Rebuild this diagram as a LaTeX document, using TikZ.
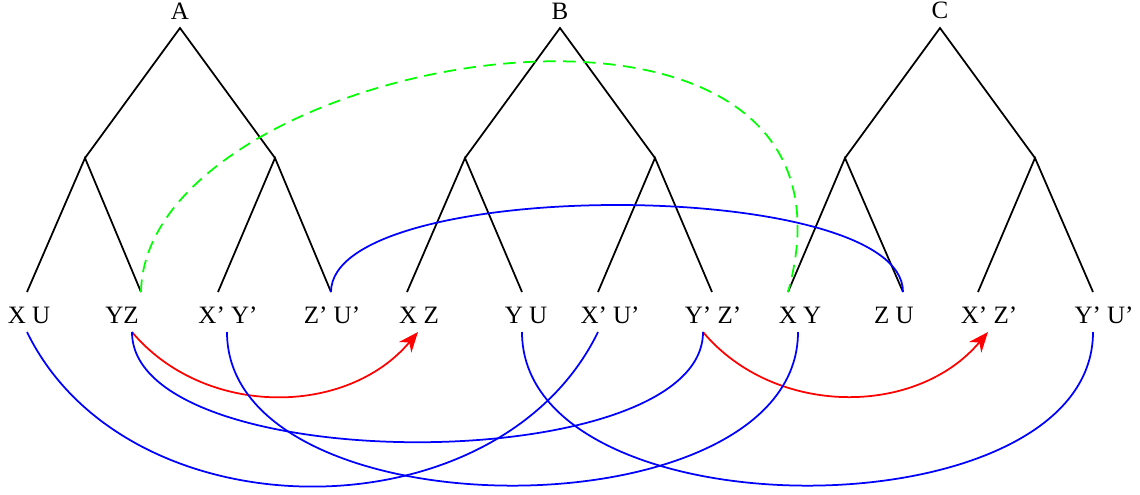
\documentclass[tikz,border=0pt]{standalone}
\usepackage{fontspec}
\setmainfont{Liberation Serif}
\usepackage{tikz}
\usetikzlibrary{arrows.meta}

\begin{document}
\begin{tikzpicture}[
  x=0.4pt, y=0.4pt,
  branch/.style={line width=0.7pt},
  leaf/.style={anchor=base},
  link/.style={line width=0.7pt, blue},
  move/.style={line width=0.7pt, red, -{Stealth[length=8pt, width=6.5pt]}},
  cross/.style={line width=0.7pt, green, dash pattern=on 5pt off 3pt}
]
  \useasboundingbox (0,0) rectangle (1140,-494);

  % tree A
  \coordinate (A) at (180,-28);
  \node[above] (Alab) at (A) {A};
  \coordinate (A1) at (85,-158);
  \coordinate (A2) at (275,-158);
  \coordinate (a1t) at (27,-292);
  \coordinate (a2t) at (141,-292);
  \coordinate (a3t) at (218,-292);
  \coordinate (a4t) at (331,-292);
  \node[leaf] (a1) at (29,-323) {X U};
  \node[leaf] (a2) at (122,-323) {YZ};
  \node[leaf] (a3) at (228,-323) {X' Y'};
  \node[leaf] (a4) at (332,-323) {Z' U'};
  \coordinate (a1b) at (27,-332);
  \coordinate (a2b) at (132,-332);
  \coordinate (a3b) at (227,-332);
  \draw[branch] (A1) -- (A) -- (A2);
  \draw[branch] (a1t) -- (A1) -- (a2t);
  \draw[branch] (a3t) -- (A2) -- (a4t);

  % tree B
  \coordinate (B) at (560,-28);
  \node[above] (Blab) at (B) {B};
  \coordinate (B1) at (465,-158);
  \coordinate (B2) at (655,-158);
  \coordinate (b1t) at (407,-292);
  \coordinate (b2t) at (522,-292);
  \coordinate (b3t) at (598,-292);
  \coordinate (b4t) at (712,-292);
  \node[leaf] (b1) at (419,-323) {X Z};
  \node[leaf] (b2) at (526,-323) {Y U};
  \node[leaf] (b3) at (610,-323) {X' U'};
  \node[leaf] (b4) at (713,-323) {Y' Z'};
  \coordinate (b1b) at (418,-332);
  \coordinate (b2b) at (522,-332);
  \coordinate (b3b) at (598,-332);
  \coordinate (b4b) at (703,-332);
  \draw[branch] (B1) -- (B) -- (B2);
  \draw[branch] (b1t) -- (B1) -- (b2t);
  \draw[branch] (b3t) -- (B2) -- (b4t);

  % tree C
  \coordinate (C) at (940,-28);
  \node[above] (Clab) at (C) {C};
  \coordinate (C1) at (845,-158);
  \coordinate (C2) at (1035,-158);
  \coordinate (c1t) at (788,-292);
  \coordinate (c2t) at (903,-292);
  \coordinate (c3t) at (978,-292);
  \coordinate (c4t) at (1093,-292);
  \node[leaf] (c1) at (800,-323) {X Y};
  \node[leaf] (c2) at (894,-323) {Z U};
  \node[leaf] (c3) at (989,-323) {X' Z'};
  \node[leaf] (c4) at (1104,-323) {Y' U'};
  \coordinate (c1b) at (798,-332);
  \coordinate (c3b) at (988,-332);
  \coordinate (c4b) at (1093,-332);
  \draw[branch] (C1) -- (C) -- (C2);
  \draw[branch] (c1t) -- (C1) -- (c2t);
  \draw[branch] (c3t) -- (C2) -- (c4t);

  % links above the leaves
  \draw[cross] (a2t) .. controls +(4,242) and +(102,367) .. (c1t);
  \draw[link] (a4t) .. controls +(0,116) and +(0,116) .. (c2t);

  % links below the leaves
  \draw[move] (a2b) to[out=-50, in=-130] (b1b);
  \draw[move] (b4b) to[out=-50, in=-130] (c3b);
  \draw[link] (a1b) to[out=-64, in=-116, looseness=1.03] (b3b);
  \draw[link] (a2b) to[out=-90, in=-90, looseness=0.66] (b4b);
  \draw[link] (a3b) to[out=-90, in=-90, looseness=0.92] (c1b);
  \draw[link] (b2b) to[out=-90, in=-90, looseness=0.92] (c4b);
\end{tikzpicture}
\end{document}
